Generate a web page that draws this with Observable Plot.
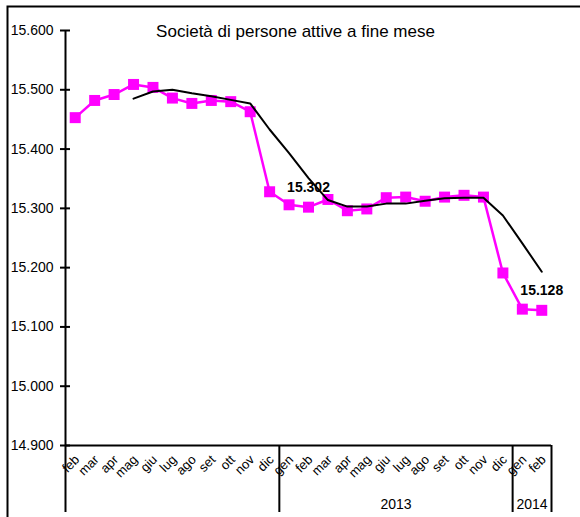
<!DOCTYPE html>
<html><head><meta charset="utf-8">
<script src="https://cdn.jsdelivr.net/npm/d3@7"></script>
<script src="https://cdn.jsdelivr.net/npm/@observablehq/plot@0.6"></script>
<style>body{margin:0;background:#fff}#chart svg{display:block}</style>
</head><body><div id="chart"></div>
<script>
const title = "Società di persone attive a fine mese";
const months = ["feb","mar","apr","mag","giu","lug","ago","set","ott","nov","dic",
  "gen","feb","mar","apr","mag","giu","lug","ago","set","ott","nov","dic",
  "gen","feb"];
const yearLabels = ["", "2013", "2014"];
const yearCounts = [11, 12, 2];
const values = [15453, 15482, 15492, 15509, 15504, 15486, 15477, 15482, 15480, 15463, 15328,
  15306, 15302, 15315, 15296, 15299, 15318, 15319, 15312, 15319, 15322, 15319, 15191,
  15130, 15128];
const trend = [null, null, null, 15485, 15497, 15500, 15494, 15489, 15483, 15477, 15433,
  15393, 15351, 15314, 15303, 15303, 15308, 15308, 15313, 15317, 15318, 15318, 15288,
  15241, 15193];
const labelIndex = [12, 24];
const yTicks = [14900, 15000, 15100, 15200, 15300, 15400, 15500, 15600];

const it = d3.formatLocale({decimal: ",", thousands: ".", grouping: [3], currency: ["€", ""]});
const fmt = it.format(",d");

const data = months.map((m, i) => ({i, month: m, value: values[i], trend: trend[i]}));
let s = 0;
const groups = yearLabels.map((y, k) => {
  const g = {year: y, start: s - 0.5, end: s + yearCounts[k] - 0.5, mid: s + (yearCounts[k] - 1) / 2};
  s += yearCounts[k];
  return g;
});
const bounds = groups.map(g => g.end);
const yMin = yTicks[0], yMax = yTicks[yTicks.length - 1];

const chart = Plot.plot({
  width: 580,
  height: 517,
  marginLeft: 65,
  marginRight: 29,
  marginTop: 30,
  marginBottom: 72,
  style: {fontFamily: "'Liberation Sans', Arial, sans-serif", background: "#fff", color: "#000"},
  x: {type: "linear", domain: [-0.5, months.length - 0.5], axis: null},
  y: {domain: [yMin, yMax], axis: null},
  marks: [
    Plot.frame({stroke: "#000", strokeWidth: 2, insetLeft: -58, insetTop: -24, insetRight: -60, insetBottom: -150}),
    Plot.ruleY([yMin], {stroke: "#000", strokeWidth: 2}),
    Plot.ruleX([groups[0].start], {y1: yMax, y2: yMin, insetBottom: -67, stroke: "#000", strokeWidth: 2}),
    Plot.ruleX(bounds, {y1: yMin, y2: yMin, insetBottom: -67, stroke: "#000", strokeWidth: 2}),
    Plot.axisY(yTicks, {anchor: "left", tickSize: 10, dx: 5, tickPadding: 7, tickFormat: fmt, fontSize: 14, strokeWidth: 2, label: null}),
    Plot.line(data, {x: "i", y: "value", stroke: "#ff00ff", strokeWidth: 2.5}),
    Plot.dot(data, {x: "i", y: "value", symbol: "square", r: 6.2, fill: "#ff00ff", stroke: "none"}),
    Plot.line(data.filter(d => d.trend != null), {x: "i", y: "trend", stroke: "#000", strokeWidth: 2}),
    Plot.text(labelIndex.map(i => data[i]), {x: "i", y: "value", text: d => fmt(d.value), dy: -20, lineAnchor: "middle", fontWeight: "bold", fontSize: 14}),
    Plot.text(data, {x: "i", text: "month", frameAnchor: "bottom", dx: 2, dy: 12, rotate: -45, textAnchor: "end", lineAnchor: "middle", fontSize: 13}),
    Plot.text(groups, {x: "mid", text: "year", frameAnchor: "bottom", dy: 59, lineAnchor: "middle", fontSize: 14}),
    Plot.text([title], {frameAnchor: "top", dx: -13, dy: 1, lineAnchor: "middle", fontSize: 17})
  ]
});
document.getElementById("chart").appendChild(chart);
</script>
</body></html>
